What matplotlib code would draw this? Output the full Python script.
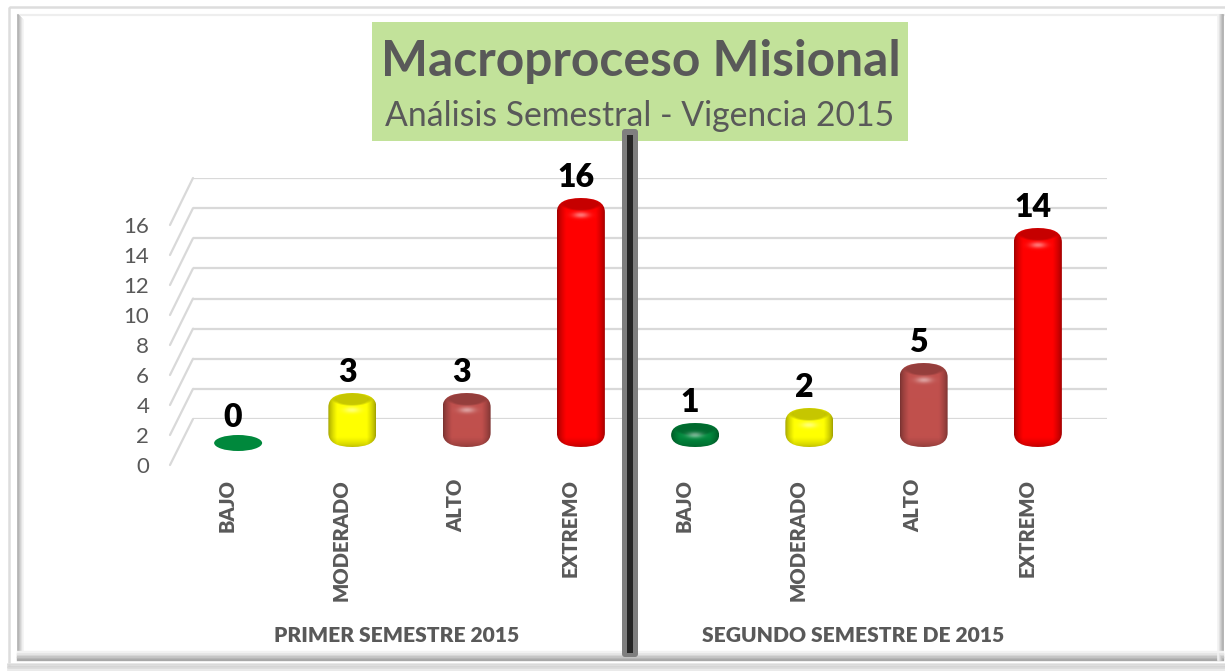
import matplotlib
matplotlib.use("Agg")
import matplotlib.pyplot as plt
import numpy as np
from matplotlib.colors import to_rgb
from matplotlib.patches import ConnectionPatch, Ellipse, FancyBboxPatch, Rectangle

plt.rcParams['font.family'] = ['Lato', 'DejaVu Sans']

# datos
categorias = ['BAJO', 'MODERADO', 'ALTO', 'EXTREMO', 'BAJO', 'MODERADO', 'ALTO', 'EXTREMO']
valores = [0, 3, 3, 16, 1, 2, 5, 14]
colores = ['#00883C', '#FFFF00', '#C0504D', '#FF0000', '#00883C', '#FFFF00', '#C0504D', '#FF0000']
grupos = ['PRIMER SEMESTRE 2015', 'SEGUNDO SEMESTRE DE 2015']
yticks = [0, 2, 4, 6, 8, 10, 12, 14, 16]
titulo = 'Macroproceso Misional'
subtitulo = 'Análisis Semestral - Vigencia 2015'

W, H = 1225, 671
GRIS = '#595959'
fig = plt.figure(figsize=(W / 100, H / 100), dpi=100, facecolor='white')


def ejes(x0, y0, x1, y1):
    # ejes a partir de pixeles de la imagen
    ax = fig.add_axes([x0 / W, 1 - y1 / H, (x1 - x0) / W, (y1 - y0) / H])
    ax.patch.set_alpha(0)
    for s in ax.spines.values():
        s.set_visible(False)
    return ax


# plano del fondo, con la rejilla
ax_back = ejes(193, 178, 1107, 419)
ax_back.set_xlim(-0.5, 7.5)
ax_back.set_ylim(0, 16)
ax_back.set_xticks([])
ax_back.set_yticks(yticks)
ax_back.tick_params(length=0, labelleft=False)
ax_back.grid(axis='y', color='#D9D9D9', lw=1.6)
ax_back.set_axisbelow(True)

# plano del frente: etiquetas de los ejes
ax_front = ejes(170, 225, 1084, 465)
ax_front.set_xlim(-0.5, 7.5)
ax_front.set_ylim(0, 16)
ax_front.set_yticks(yticks)
ax_front.set_xticks(range(len(categorias)))
ax_front.set_xticklabels(categorias, rotation=90, fontweight='heavy', fontsize=14.5, color=GRIS)
ax_front.tick_params(axis='x', length=0, pad=10)
ax_front.tick_params(axis='y', length=0, pad=15, labelsize=16, labelcolor=GRIS)

# lineas laterales entre los dos planos
for v in yticks:
    fig.add_artist(ConnectionPatch(xyA=(-0.5, v), coordsA=ax_front.transData,
                                   xyB=(-0.5, v), coordsB=ax_back.transData,
                                   color='#D9D9D9', lw=1.6))

# barras: 1 unidad = 15 px en y, 114.3 px en x
ax = ejes(181, 100, 1095, 500)
ax.set_xlim(-0.5, 7.5)
ax.set_ylim(-62 / 15, 338 / 15)
ax.set_xticks([])
ax.set_yticks([])
PX = 1 / 114.25
PY = 1 / 15
ancho = 48 * PX
base = -9 * PY


def cilindro(i, v, color):
    rgb = np.array(to_rgb(color))
    alto = int(round((v - base) / PY))
    # Y = pixeles desde arriba, X = pixeles desde el centro
    X, Y = np.meshgrid(np.linspace(-24, 24, 96), np.arange(alto) + 0.5)
    borde = np.clip((24 - np.abs(X)) / 9, 0, 1) ** 0.7
    sombra = 0.62 + 0.38 * borde
    abajo = np.clip((alto - Y) / 10, 0, 1) ** 0.6
    sombra = sombra * (0.72 + 0.28 * abajo)
    # tapa oscura arriba
    d = (X / 19) ** 2 + ((Y - 6) / 6.5) ** 2
    sombra = sombra * (1 - 0.22 * np.clip((1.2 - d) / 0.5, 0, 1))
    img = rgb[None, None, :] * sombra[:, :, None]
    # brillo bajo la tapa
    yh = min(17, alto * 0.5)
    brillo = 0.45 * np.exp(-(X / 8) ** 2 - ((Y - yh) / 3) ** 2)
    img = img + (1 - img) * brillo[:, :, None]
    im = ax.imshow(img, extent=(i - ancho / 2, i + ancho / 2, base, v), origin='upper',
                   aspect='auto', interpolation='bilinear', zorder=3)
    rx = 24
    ry = min(14, alto / 2)
    clip = FancyBboxPatch((i - ancho / 2, base), ancho, v - base,
                          boxstyle='round,pad=0,rounding_size=%f' % (rx * PX),
                          mutation_aspect=(ry * PY) / (rx * PX), transform=ax.transData,
                          fc='none', ec='none')
    ax.add_patch(clip)
    im.set_clip_path(clip)


for i, (v, c) in enumerate(zip(valores, colores)):
    if v == 0:
        ax.add_patch(Ellipse((i, -5 * PY), ancho, 16 * PY, fc=c, ec='none', zorder=3))
    else:
        cilindro(i, v, c)
    ax.annotate(str(v), xy=(i, v), xytext=(-3.6, 15), textcoords='offset points',
                ha='center', va='center', fontsize=23, fontweight='heavy', color='black', zorder=5)
ax.set_xlim(-0.5, 7.5)
ax.set_ylim(-62 / 15, 338 / 15)

# capa superior en pixeles: marco, titulo y separador
top = ejes(0, 0, W, H)
top.set_zorder(5)
top.set_xlim(0, W)
top.set_ylim(H, 0)
top.set_xticks([])
top.set_yticks([])

# marco exterior
top.add_patch(Rectangle((9, 7), 1300, 660, fc='none', ec='#DDDDDD', lw=1.8))
for k, g in enumerate(['#E4E4E4', '#D8D8D8', '#D2D2D2', '#DCDCDC', '#E6E6E6']):
    top.plot([8, W], [664 + k * 1.4] * 2, color=g, lw=1.2)
# marco interior con bisel
top.plot([18, W], [15, 15], color='#EEEEEE', lw=1.6)
for k, g in enumerate(['#A8A8A8', '#B4B4B4', '#C4C4C4', '#D4D4D4', '#E4E4E4', '#F2F2F2']):
    top.plot([18 + k, 18 + k], [15 + k, 660 - k * 1.6], color=g, lw=1.1)
    top.plot([18, 1223], [660 - k * 1.6] * 2, color=g, lw=1.7)
    top.plot([1223 - k, 1223 - k], [15, 660], color=g, lw=1.2)

# caja del titulo
top.add_patch(Rectangle((372, 22), 536, 119, fc='#C2E29A', ec='none'))
top.text(641, 62, titulo, ha='center', va='center', fontsize=35.8, fontweight='bold', color=GRIS)
top.text(640, 116, subtitulo, ha='center', va='center', fontsize=24.3, color=GRIS)

# titulos de grupo
top.text(397, 636, grupos[0], ha='center', va='center', fontsize=15.1, fontweight='heavy', color=GRIS)
top.text(853, 636, grupos[1], ha='center', va='center', fontsize=15.1, fontweight='heavy', color=GRIS)

# separador central
top.add_patch(FancyBboxPatch((622, 129), 16, 528, boxstyle='round,pad=0,rounding_size=3',
                             fc='#7F7F7F', ec='none', zorder=4))
top.add_patch(Rectangle((627, 135), 6, 518, fc='#262626', ec='none', zorder=4))

fig.savefig('out.png', dpi=100, facecolor='white')
